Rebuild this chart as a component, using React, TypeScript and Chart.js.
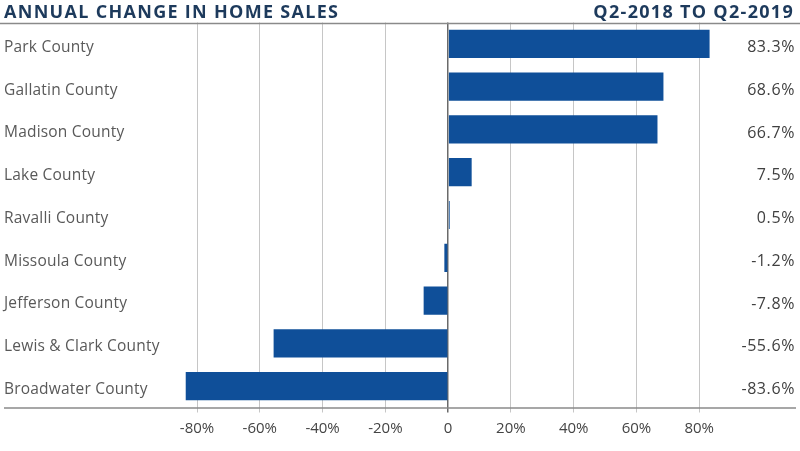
import React, { useEffect, useRef } from "react";
import { Chart, registerables } from "chart.js";

Chart.register(...registerables);

const categories = [
  "Park County",
  "Gallatin County",
  "Madison County",
  "Lake County",
  "Ravalli County",
  "Missoula County",
  "Jefferson County",
  "Lewis & Clark County",
  "Broadwater County",
];
const values = [83.3, 68.6, 66.7, 7.5, 0.5, -1.2, -7.8, -55.6, -83.6];
const valueLabels = ["83.3%", "68.6%", "66.7%", "7.5%", "0.5%", "-1.2%", "-7.8%", "-55.6%", "-83.6%"];
const titleLeft = "ANNUAL CHANGE IN HOME SALES";
const titleRight = "Q2-2018 TO Q2-2019";

const FONT = "'Open Sans', 'Noto Sans', sans-serif";

export default function App() {
  const ref = useRef<HTMLCanvasElement>(null);
  useEffect(() => {
    if (!ref.current) return;
    const deco = {
      id: "deco",
      afterDatasetsDraw(chart: any) {
        const { ctx, chartArea, scales } = chart;
        const y = scales.y;
        ctx.save();
        // category labels
        ctx.font = `15.5px ${FONT}`;
        ctx.fillStyle = "#595959";
        ctx.textAlign = "left";
        ctx.textBaseline = "middle";
        (ctx as any).letterSpacing = "0.2px";
        categories.forEach((t, i) => {
          ctx.fillText(t, 4, y.getPixelForValue(i) + 3.5);
        });
        // value labels
        ctx.font = `16px ${FONT}`;
        ctx.fillStyle = "#404040";
        ctx.textAlign = "right";
        (ctx as any).letterSpacing = "0.6px";
        valueLabels.forEach((t, i) => {
          ctx.fillText(t, 795, y.getPixelForValue(i) + 3.5);
        });
        // titles
        ctx.font = `bold 18px ${FONT}`;
        ctx.fillStyle = "#1d3a5c";
        ctx.textBaseline = "alphabetic";
        (ctx as any).letterSpacing = "1.3px";
        ctx.textAlign = "left";
        ctx.fillText(titleLeft, 4, 17.5);
        ctx.textAlign = "right";
        ctx.fillText(titleRight, 794, 17.5);
        // top rule
        ctx.strokeStyle = "#8a8a8a";
        ctx.lineWidth = 1.5;
        ctx.beginPath();
        ctx.moveTo(0, 23.5);
        ctx.lineTo(800, 23.5);
        ctx.stroke();
        // bottom rule
        ctx.beginPath();
        ctx.moveTo(4, chartArea.bottom + 0.5);
        ctx.lineTo(796, chartArea.bottom + 0.5);
        ctx.stroke();
        ctx.restore();
      },
    };
    const chart = new Chart(ref.current, {
      type: "bar",
      data: {
        labels: categories,
        datasets: [
          {
            data: values,
            backgroundColor: "#0f4f99",
            borderWidth: 0,
            barPercentage: 0.66,
            categoryPercentage: 1,
          },
        ],
      },
      options: {
        indexAxis: "y",
        animation: false,
        responsive: false,
        maintainAspectRatio: false,
        layout: { padding: { top: 22.5, left: 4, right: 38, bottom: 0 } },
        plugins: { legend: { display: false }, tooltip: { enabled: false }, title: { display: false } },
        scales: {
          x: {
            min: -100,
            max: 100,
            ticks: {
              stepSize: 20,
              padding: 7.5,
              color: "#444",
              font: { family: FONT, size: 15 },
              callback: (v: any) => (Math.abs(v) === 100 ? "" : v === 0 ? "0" : v + "%"),
            },
            grid: {
              color: (c: any) =>
                c.tick && Math.abs(c.tick.value) === 100
                  ? "rgba(0,0,0,0)"
                  : c.tick && c.tick.value === 0
                  ? "#6a6a6a"
                  : "#c6c6c6",
              lineWidth: (c: any) => (c.tick && c.tick.value === 0 ? 1.5 : 1),
              tickLength: 5,
            },
            border: { display: false },
            afterFit: (s: any) => {
              s.height = 43.5;
            },
          },
          y: {
            ticks: { display: false },
            grid: { display: false },
            border: { display: false },
            afterFit: (s: any) => {
              s.width = 130.25;
            },
          },
        },
      },
      plugins: [deco],
    });
    return () => chart.destroy();
  }, []);
  return (
    <div style={{ position: "absolute", left: 0, top: 0, width: 800, height: 451 }}>
      <canvas ref={ref} width={800} height={451} style={{ width: 800, height: 451 }} />
    </div>
  );
}
